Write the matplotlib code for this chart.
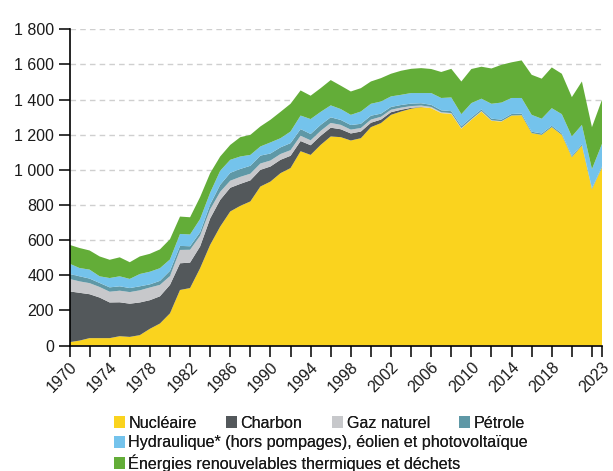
import numpy as np
import matplotlib
matplotlib.use("Agg")
import matplotlib.pyplot as plt
from matplotlib.patches import Patch
from matplotlib.ticker import FuncFormatter, FixedLocator

plt.rcParams['font.family'] = ['Liberation Sans', 'DejaVu Sans']

# Production d'énergie primaire par source (TWh), couches empilées
years = list(range(1970, 2024))

nucleaire = [19, 28, 42, 42, 42, 53, 49, 59, 95, 125,
             183, 316, 327, 440, 573, 677, 763, 795, 820, 905,
             933, 981, 1010, 1106, 1085, 1142, 1190, 1186, 1167, 1180,
             1243, 1266, 1313, 1332, 1348, 1357, 1351, 1323, 1319, 1234,
             1285, 1332, 1279, 1275, 1309, 1311, 1209, 1199, 1243, 1199,
             1072, 1138, 890, 1013]
charbon = [289, 272, 250, 231, 203, 193, 189, 186, 163, 155,
           162, 152, 145, 124, 150, 152, 135, 125, 120, 95,
           86, 76, 70, 58, 55, 52, 50, 45, 40, 38,
           25, 20, 15, 10, 5, 1, 0, 0, 0, 0,
           0, 0, 0, 0, 0, 0, 0, 0, 0, 0,
           0, 0, 0, 0]
gaz = [71, 65, 63, 60, 61, 66, 66, 69, 72, 65,
       50, 76, 73, 61, 52, 46, 40, 40, 38, 36,
       34, 33, 32, 30, 28, 28, 27, 25, 22, 20,
       18, 16, 14, 12, 10, 8, 7, 5, 4, 4,
       3, 3, 3, 2, 0, 0, 0, 0, 0, 0,
       0, 0, 0, 0]
petrole = [28, 29, 26, 23, 25, 25, 23, 23, 18, 23,
           30, 23, 20, 20, 28, 40, 45, 45, 45, 45,
           40, 38, 40, 38, 36, 34, 32, 28, 26, 24,
           22, 18, 16, 15, 14, 13, 12, 11, 11, 10,
           10, 9, 9, 9, 9, 9, 8, 8, 8, 8,
           7, 7, 6, 6]
hydraulique = [59, 47, 51, 38, 53, 57, 52, 70, 72, 72,
               65, 68, 67, 75, 67, 80, 74, 71, 62, 52,
               63, 52, 66, 77, 85, 74, 68, 62, 58, 70,
               68, 69, 60, 58, 60, 58, 67, 70, 78, 69,
               82, 61, 85, 97, 91, 89, 96, 84, 100, 110,
               111, 111, 108, 129]
enr_thermiques = [107, 114, 109, 113, 104, 108, 95, 100, 102, 107,
                  115, 99, 98, 125, 111, 81, 85, 110, 114, 114,
                  129, 150, 158, 143, 133, 135, 144, 133, 133, 133,
                  127, 133, 129, 137, 138, 142, 137, 148, 163, 186,
                  194, 182, 201, 215, 203, 214, 228, 228, 232, 230,
                  224, 247, 239, 251]

labels = ["Nucléaire", "Charbon", "Gaz naturel", "Pétrole",
          "Hydraulique* (hors pompages), éolien et photovoltaïque",
          "Énergies renouvelables thermiques et déchets"]
colors = ["#FAD31E", "#53585B", "#C7C8CB", "#5F98A6", "#74C3EC", "#63AD38"]

W, H = 613, 471
fig = plt.figure(figsize=(W / 100, H / 100), dpi=100)
ax = fig.add_axes([69.5 / W, 1 - 345.5 / H, (602 - 69.5) / W, (345.5 - 29.3) / H])

ax.stackplot(years, nucleaire, charbon, gaz, petrole, hydraulique, enr_thermiques,
             colors=colors, linewidth=0, zorder=2)

ax.set_xlim(1970, 2023)
ax.set_ylim(0, 1800)
ax.set_yticks(range(0, 1801, 200))
ax.yaxis.set_major_formatter(FuncFormatter(lambda v, p: f"{int(v):,}".replace(",", " ")))
for v in range(200, 1801, 200):
    ax.axhline(v, color="#CFCFCF", lw=1, ls=(0, (4, 3)), zorder=1)

xt = list(range(1970, 2023, 2)) + [2023]
ax.xaxis.set_major_locator(FixedLocator(xt))
xl = [str(y) if (y - 1970) % 4 == 0 and y <= 2018 or y == 2023 else "" for y in xt]
ax.set_xticklabels(xl, rotation=45, ha="right", rotation_mode="anchor")

ax.tick_params(axis="both", direction="out", length=8, width=1.1, color="black",
               labelsize=11.5, labelcolor="#1a1a1a")
ax.tick_params(axis="y", pad=3)
ax.tick_params(axis="x", pad=2)
for s in ["top", "right"]:
    ax.spines[s].set_visible(False)
for s in ["left", "bottom"]:
    ax.spines[s].set_linewidth(1.2)
    ax.spines[s].set_zorder(3)

# legend entries placed one by one (square left edge x, row centre y, in pixels)
spots = [(114, 423), (226, 423), (332, 423), (459, 423), (114, 443), (114, 463)]
for (px, py), lab, c in zip(spots, labels, colors):
    leg = fig.legend([Patch(facecolor=c, edgecolor="none")], [lab], loc="center left",
                     bbox_to_anchor=(px / W, 1 - py / H), frameon=False,
                     fontsize=11.6, handlelength=0.7, handleheight=0.7,
                     handletextpad=0.2, borderaxespad=0, borderpad=0)
    for t in leg.get_texts():
        t.set_color("#1a1a1a")
    fig.add_artist(leg)

fig.savefig("out.png", dpi=100)
